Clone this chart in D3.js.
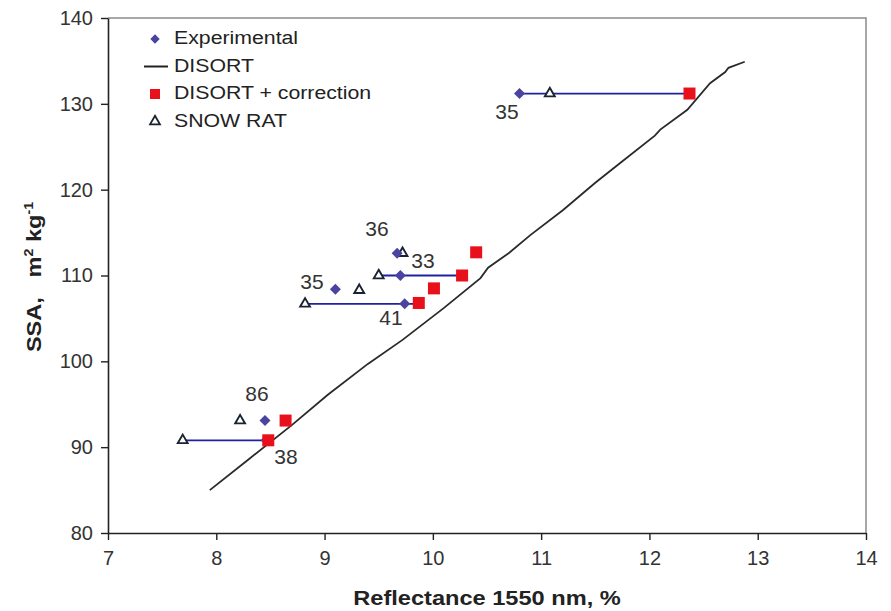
<!DOCTYPE html>
<html>
<head>
<meta charset="utf-8">
<script src="https://cdnjs.cloudflare.com/ajax/libs/d3/7.8.5/d3.min.js"></script>
<style>
  body { margin: 0; background: #fff; }
  svg { display: block; font-family: "Liberation Sans", Arial, sans-serif; }
</style>
</head>
<body>
<svg id="chart" width="891" height="611"></svg>
<script>
// Reflectance at 1550 nm (%) vs. snow specific surface area (m2/kg)
const experimental = [
  { x: 10.80, y: 131.2 }, { x: 9.67, y: 112.6 }, { x: 9.70, y: 110.0 },
  { x: 9.10, y: 108.4 }, { x: 9.74, y: 106.7 }, { x: 8.45, y: 93.1 },
  { x: 8.46, y: 90.8 }
];
const disortCorrection = [
  { x: 12.37, y: 131.2 }, { x: 10.40, y: 112.7 }, { x: 10.27, y: 110.0 },
  { x: 10.01, y: 108.5 }, { x: 9.87, y: 106.8 }, { x: 8.64, y: 93.1 },
  { x: 8.48, y: 90.8 }
];
const snowRat = [
  { x: 11.08, y: 131.2 }, { x: 9.72, y: 112.6 }, { x: 9.50, y: 110.0 },
  { x: 9.32, y: 108.3 }, { x: 8.82, y: 106.7 }, { x: 8.22, y: 93.1 },
  { x: 7.69, y: 90.8 }
];
// DISORT model curve
const disortX = [7.94, 8.30, 8.70, 9.03, 9.40, 9.72, 10.10, 10.44, 10.51, 10.70, 10.90,
                 11.20, 11.50, 11.73, 12.05, 12.10, 12.35, 12.56, 12.70, 12.73, 12.88];
const disortY = [85.0, 88.6, 92.6, 96.1, 99.7, 102.5, 106.2, 109.7, 110.9, 112.6, 114.7,
                 117.6, 120.8, 123.1, 126.3, 127.0, 129.3, 132.4, 133.7, 134.2, 134.9];
// Spread bars between lowest and highest estimate for a sample
const spreads = [
  { x0: 10.80, x1: 12.37, y: 131.2 }, { x0: 9.50, x1: 10.27, y: 110.0 },
  { x0: 8.82, x1: 9.87, y: 106.7 }, { x0: 7.69, x1: 8.48, y: 90.8 }
];
// Sample labels
const sampleLabels = [
  { text: "35", x: 10.685, y: 128.9 }, { text: "36", x: 9.484, y: 115.2 },
  { text: "33", x: 9.909, y: 111.5 }, { text: "35", x: 8.884, y: 109.1 },
  { text: "41", x: 9.613, y: 104.9 }, { text: "86", x: 8.376, y: 96.0 },
  { text: "38", x: 8.644, y: 88.7 }
];
const xTicks = [7, 8, 9, 10, 11, 12, 13, 14];
const yTicks = [80, 90, 100, 110, 120, 130, 140];

const svg = d3.select("#chart");
const m = { left: 108, right: 866, top: 18, bottom: 533 };
const x = d3.scaleLinear().domain([7, 14]).range([m.left, m.right]);
const y = d3.scaleLinear().domain([80, 140]).range([m.bottom, m.top]);

// text placed at (px, py) and widened horizontally by sx
function wideText(parent, px, py, sx) {
  return parent.append("text").attr("transform", `translate(${px},${py}) scale(${sx},1)`);
}

// plot frame (top/right)
svg.append("path")
  .attr("d", `M${m.left},${m.top}H${m.right}V${m.bottom}`)
  .attr("fill", "none").attr("stroke", "#8a8a8a").attr("stroke-width", 1.5);

const xAxis = svg.append("g").attr("transform", `translate(0,${m.bottom})`)
  .call(d3.axisBottom(x).tickValues(xTicks).tickFormat(d3.format("d"))
    .tickSize(7).tickSizeOuter(0).tickPadding(11));
const yAxis = svg.append("g").attr("transform", `translate(${m.left},0)`)
  .call(d3.axisLeft(y).tickValues(yTicks).tickFormat(d3.format("d"))
    .tickSize(7).tickSizeOuter(0).tickPadding(8));
[xAxis, yAxis].forEach(g => {
  g.select(".domain").attr("stroke", "#222").attr("stroke-width", 1.6);
  g.selectAll(".tick line").attr("stroke", "#222").attr("stroke-width", 1.4);
  g.selectAll(".tick text").attr("fill", "#333").attr("font-size", 20)
    .attr("font-family", "Liberation Sans, Arial, sans-serif");
});

// axis titles
wideText(svg, (m.left + m.right) / 2, 605, 1.18)
  .attr("text-anchor", "middle").attr("font-size", 20).attr("font-weight", "bold").attr("fill", "#222")
  .text("Reflectance 1550 nm,  %");
const yt = svg.append("text").attr("transform", "translate(41,277) rotate(-90) scale(1.18,1)")
  .attr("text-anchor", "middle").attr("font-size", 20).attr("font-weight", "bold").attr("fill", "#222");
yt.append("tspan").text("SSA,\u00a0\u00a0\u00a0m");
yt.append("tspan").attr("font-size", 12).attr("dy", -8).text("2");
yt.append("tspan").attr("dy", 8).text(" kg");
yt.append("tspan").attr("font-size", 12).attr("dy", -8).text("-1");

// DISORT curve
const line = d3.line().x((d, i) => x(disortX[i])).y((d, i) => y(disortY[i]));
svg.append("path").datum(disortX).attr("d", line)
  .attr("fill", "none").attr("stroke", "#2a2a2a").attr("stroke-width", 1.8);

// spread bars
svg.selectAll(".spread").data(spreads).join("line")
  .attr("x1", d => x(d.x0)).attr("x2", d => x(d.x1))
  .attr("y1", d => y(d.y)).attr("y2", d => y(d.y))
  .attr("stroke", "#2020a0").attr("stroke-width", 1.8);

const diamond = "M0,-5.5L5.5,0L0,5.5L-5.5,0Z";
const triangle = d3.symbol().type(d3.symbolTriangle).size(42);

svg.selectAll(".snow").data(snowRat).join("path")
  .attr("transform", d => `translate(${x(d.x)},${y(d.y)})`)
  .attr("d", triangle).attr("fill", "#fff").attr("stroke", "#1a2330").attr("stroke-width", 1.9);
svg.selectAll(".exp").data(experimental).join("path")
  .attr("transform", d => `translate(${x(d.x)},${y(d.y)})`)
  .attr("d", diamond).attr("fill", "#4a43a0");
svg.selectAll(".corr").data(disortCorrection).join("rect")
  .attr("x", d => x(d.x) - 6).attr("y", d => y(d.y) - 6)
  .attr("width", 12).attr("height", 12).attr("fill", "#e8101a");

svg.selectAll(".lab").data(sampleLabels).join("text")
  .attr("transform", d => `translate(${x(d.x)},${y(d.y)}) scale(1.05,1)`)
  .attr("text-anchor", "middle").attr("dominant-baseline", "middle")
  .attr("font-size", 20).attr("fill", "#333").text(d => d.text);

// legend
const lg = svg.append("g");
const rows = [
  { label: "Experimental", kind: "diamond" },
  { label: "DISORT", kind: "line" },
  { label: "DISORT + correction", kind: "square" },
  { label: "SNOW RAT", kind: "triangle" }
];
rows.forEach((r, i) => {
  const cy = 39 + i * 27.5;
  if (r.kind === "diamond") lg.append("path").attr("transform", `translate(155,${cy}) scale(0.85)`).attr("d", diamond).attr("fill", "#4a43a0");
  if (r.kind === "line") lg.append("line").attr("x1", 144).attr("x2", 168).attr("y1", cy).attr("y2", cy).attr("stroke", "#222").attr("stroke-width", 2);
  if (r.kind === "square") lg.append("rect").attr("x", 150).attr("y", cy - 5).attr("width", 10).attr("height", 10).attr("fill", "#e8101a");
  if (r.kind === "triangle") lg.append("path").attr("transform", `translate(155,${cy})`).attr("d", triangle).attr("fill", "#fff").attr("stroke", "#1a2330").attr("stroke-width", 1.8);
  wideText(lg, 174, cy, 1.12).attr("dominant-baseline", "middle")
    .attr("font-size", 19).attr("fill", "#222").text(r.label);
});
</script>
</body>
</html>
